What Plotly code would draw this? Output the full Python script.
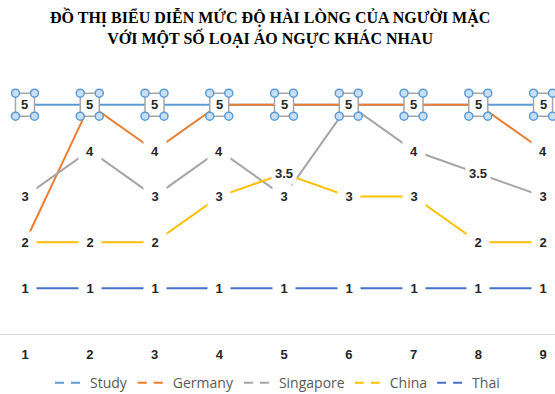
import plotly.graph_objects as go

x_vals = [1, 2, 3, 4, 5, 6, 7, 8, 9]
study = [5, 5, 5, 5, 5, 5, 5, 5, 5]
germany = [2, 5, 4, 5, 5, 5, 5, 5, 4]
singapore = [3, 4, 3, 4, 3, 5, 4, 3.5, 3]
china = [2, 2, 2, 3, 3.5, 3, 3, 2, 2]
thai = [1, 1, 1, 1, 1, 1, 1, 1, 1]

series_names = ["Study", "Germany", "Singapore", "China", "Thai"]
series_vals = [study, germany, singapore, china, thai]
colors = ["#5B9BD5", "#ED7D31", "#A5A5A5", "#FFC000", "#4472C4"]

title_text = "ĐỒ THỊ BIỂU DIỄN MỨC ĐỘ HÀI LÒNG CỦA NGƯỜI MẶC<br>VỚI MỘT SỐ LOẠI ÁO NGỰC KHÁC NHAU"

fig = go.Figure()

for name, vals, col in zip(series_names, series_vals, colors):
    fig.add_trace(go.Scatter(x=x_vals, y=vals, mode="lines", name=name,
                             line=dict(color=col, width=2), showlegend=False,
                             hoverinfo="skip"))

# legend-only dummy traces with dashed samples
for name, col in zip(series_names, colors):
    fig.add_trace(go.Scatter(x=[None], y=[None], mode="lines", name=name,
                             line=dict(color=col, width=2, dash="9px,7px")))

def fmt(v):
    return str(int(v)) if float(v).is_integer() else str(v)

shapes = []
# selection boxes on the Study labels
for xv, yv in zip(x_vals, study):
    shapes.append(dict(type="rect", xref="x", yref="y", xsizemode="pixel", ysizemode="pixel",
                       xanchor=xv, yanchor=yv, x0=-9.5, x1=9.5, y0=-11.5, y1=11.5,
                       line=dict(color="#A6A6A6", width=1.5), fillcolor="white", layer="above"))
    for dx in (-9.5, 9.5):
        for dy in (-11.5, 11.5):
            shapes.append(dict(type="circle", xref="x", yref="y", xsizemode="pixel", ysizemode="pixel",
                               xanchor=xv, yanchor=yv, x0=dx - 4, x1=dx + 4, y0=dy - 4, y1=dy + 4,
                               line=dict(color="#5B9BD5", width=1.5), fillcolor="#C9DFF3",
                               layer="above"))

annotations = []
labeled = set()
for i, (name, vals) in enumerate(zip(series_names, series_vals)):
    for xv, yv in zip(x_vals, vals):
        key = (xv, yv)
        if key in labeled:
            continue
        labeled.add(key)
        txt = fmt(yv)
        ann = dict(x=xv, y=yv, xref="x", yref="y", text=txt, showarrow=False,
                   font=dict(family="Liberation Sans", size=13, color="#262626", weight="bold"),
                   xanchor="center", yanchor="middle")
        if i > 0:
            ann.update(bgcolor="white", borderpad=3)
            if len(txt) == 1:
                ann.update(width=16, height=14)
        annotations.append(ann)

annotations.append(dict(text=title_text, x=0.486, xref="paper", y=1.237, yref="paper",
                        xanchor="center", yanchor="top", showarrow=False,
                        font=dict(family="Liberation Serif", size=16, color="black", weight="bold")))

fig.update_layout(
    width=555, height=394,
    margin=dict(l=0, r=0, t=68, b=60, autoexpand=False),
    paper_bgcolor="white", plot_bgcolor="white",
    xaxis=dict(range=[0.614, 9.185], tickvals=x_vals, ticktext=[str(v) for v in x_vals],
               showgrid=False, zeroline=False, showline=True, linecolor="#D9D9D9", linewidth=1,
               ticks="", ticklabelstandoff=8,
               tickfont=dict(family="Liberation Sans", size=13, color="#262626", weight="bold")),
    yaxis=dict(range=[0, 5.8], showgrid=False, zeroline=False, showticklabels=False, ticks=""),
    shapes=shapes,
    annotations=annotations,
    showlegend=True,
    legend=dict(orientation="h", x=0.5, xanchor="center", y=-0.185, yanchor="middle",
                font=dict(family="Open Sans", size=14, color="#595959"), itemwidth=30,
                traceorder="normal"),
)

fig.write_html("out.html")
